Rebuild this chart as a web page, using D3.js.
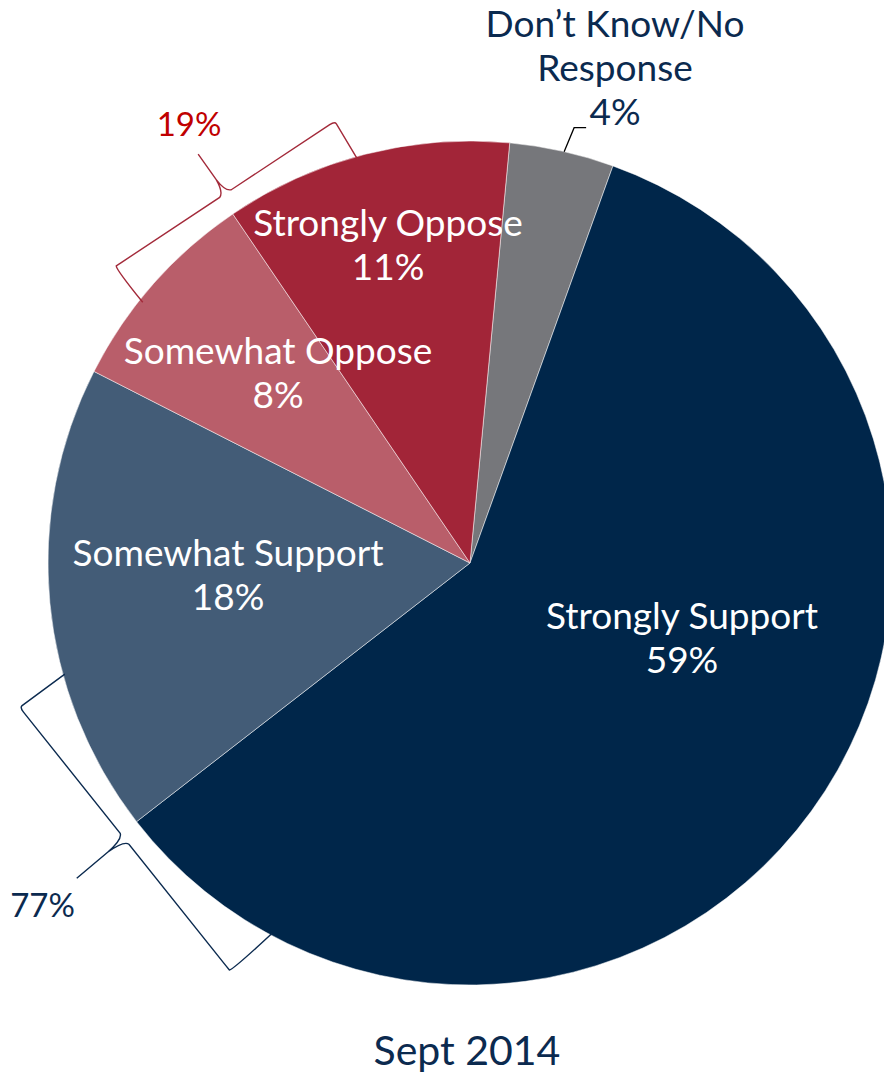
<!DOCTYPE html>
<html><head><meta charset="utf-8">
<script src="https://cdn.jsdelivr.net/npm/d3@7"></script>
<style>body{margin:0;background:#fff}svg{display:block}text{font-family:Lato,"Noto Sans",sans-serif}</style>
</head><body><svg id="c" width="884" height="1075"></svg>
<script>
// ---- data ----
const categories = ["Don’t Know/No Response","Strongly Support","Somewhat Support","Somewhat Oppose","Strongly Oppose"];
const values = [4, 59, 18, 8, 11];
const labelLines = [["Don’t Know/No","Response","4%"],["Strongly Support","59%"],["Somewhat Support","18%"],["Somewhat Oppose","8%"],["Strongly Oppose","11%"]];
const colors = ["#76777B","#00264A","#435C77","#B95E6A","#A22538"];
const groupNames = ["Support","Oppose"];
const groupValues = [77, 19];
const title = "Sept 2014";

// ---- layout ----
const cx = 470, cy = 563, R = 422;
const deg = Math.PI/180;
const start = 5.4*deg;
const svg = d3.select("#c");
const g = svg.append("g").attr("transform",`translate(${cx},${cy})`);
const pie = d3.pie().sort(null).startAngle(start).endAngle(start+2*Math.PI);
const arcs = pie(values);
const arc = d3.arc().innerRadius(0).outerRadius(R);
g.selectAll("path.slice").data(arcs).join("path").attr("class","slice")
  .attr("d",arc).attr("fill",(d,i)=>colors[i]).attr("stroke","#fff").attr("stroke-width",0.5);

// labels: offsets from pie center (x center, first baseline)
const labelPos = [[145,-526],[212,66],[-242,3],[-192,-199],[-82,-327]];
const fs = 37, lh = 44;
arcs.forEach((a,i)=>{
  const t = g.append("text").attr("text-anchor","middle")
    .attr("fill", i===0 ? "#0B2A4F" : "#fff").style("font-size",fs+"px");
  labelLines[i].forEach((ln,j)=>{
    t.append("tspan").attr("x",labelPos[i][0]).attr("y",labelPos[i][1]+j*lh).text(ln);
  });
});

// leader line for Don't Know
(function(){
  const a = arcs[0];
  const ang = a.startAngle + (a.endAngle-a.startAngle)*0.52;
  const p0 = [Math.sin(ang)*R, -Math.cos(ang)*R];
  const p1 = [p0[0]+10, p0[1]-24];
  const p2 = [p1[0]+12, p1[1]];
  g.append("path").attr("d",d3.line()([p0,p1,p2])).attr("fill","none").attr("stroke","#000").attr("stroke-width",1.3);
})();

// braces: local frame x along tangent, y outward
function brace(angleDeg, dist, half, hook, tip, color){
  const L = half, r = 6;
  const p = d3.path();
  p.moveTo(-L+2, -hook);
  p.quadraticCurveTo(-L-2, -r*0.5, -L, 0);
  p.quadraticCurveTo(-L, 0, -L+r, 0);
  p.lineTo(-7, 0);
  p.quadraticCurveTo(-1, 2, 0, tip*0.35);
  p.lineTo(-1, tip);
  p.moveTo(0, tip*0.35);
  p.quadraticCurveTo(1, 2, 7, 0);
  p.lineTo(L-r, 0);
  p.quadraticCurveTo(L, 0, L, -r*0.5);
  p.lineTo(L-2, -hook);
  const a = angleDeg*deg;
  const mx = Math.sin(a)*dist, my = -Math.cos(a)*dist;
  g.append("path").attr("d",p.toString())
    .attr("transform",`translate(${mx},${my}) rotate(${angleDeg}) scale(1,-1)`)
    .attr("fill","none").attr("stroke",color).attr("stroke-width",1.4);
}
brace(231.4, 442, 168, 56, 62, "#0B2A4F");
brace(326.5, 443, 131, 45, 48, "#A32A3A");

// group totals
g.append("text").attr("x",-427.5).attr("y",354).attr("text-anchor","middle").attr("fill","#0B2A4F").style("font-size","33px").text(groupValues[0]+"%");
g.append("text").attr("x",-281).attr("y",-427).attr("text-anchor","middle").attr("fill","#C00000").style("font-size","33px").text(groupValues[1]+"%");

svg.append("text").attr("x",467).attr("y",1065).attr("text-anchor","middle").attr("fill","#0B2A4F").style("font-size","41px").text(title);
</script></body></html>
